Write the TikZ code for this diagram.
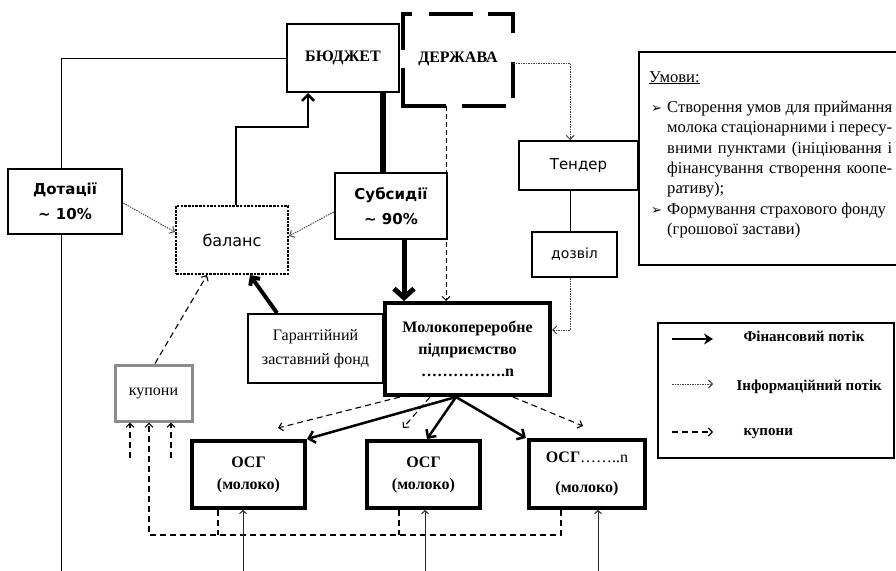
\documentclass[tikz,border=0pt]{standalone}
\usepackage{fontspec}
\setmainfont{Liberation Serif}
\newfontfamily\gothic{DejaVu Sans}
\newfontfamily\symf{DejaVu Sans}
\usetikzlibrary{arrows.meta,calc}
\newcommand\umbul{\makebox[16pt][l]{\symf\fontsize{13}{13}\selectfont ➢}}
\begin{document}
\begin{tikzpicture}[x=1pt,y=-1pt,
  box/.style={draw, rectangle, inner sep=0pt, line width=2pt, align=center},
  serif/.style={font=\fontsize{16}{22}\selectfont},
  serifb/.style={font=\bfseries\fontsize{16}{22}\selectfont},
  legtext/.style={anchor=west, font=\bfseries\fontsize{15}{20}\selectfont},
  sans/.style={font=\gothic\fontsize{15}{24}\selectfont},
  sansb/.style={font=\gothic\bfseries\fontsize{15}{25}\selectfont},
  utext/.style={anchor=base west, inner sep=0pt, font=\fontsize{16.6}{20}\selectfont},
  thinline/.style={line width=1pt},
  derzhline/.style={line width=4.5pt, line cap=butt, line join=miter},
  fin/.style={line width=2.5pt, -{Straight Barb[length=6pt,width=12pt]}},
  bigfin/.style={line width=5pt, -{Straight Barb[length=9pt,width=20pt]}},
  info/.style={line width=0.9pt, draw=black!75, dash pattern=on 1.5pt off 1pt, -{Straight Barb[length=4pt,width=8pt]}},
  kup/.style={line width=1.1pt, dash pattern=on 6pt off 4pt, -{Straight Barb[length=4pt,width=8pt]}},
  kupline/.style={line width=1.1pt, dash pattern=on 6pt off 4pt},
  uparrow/.style={line width=1pt, draw=black!85, -{Straight Barb[length=3pt,width=7pt]}}
]
\useasboundingbox (0,0) rectangle (896,570);
\coordinate (bottomedge) at (0,571);

% boxes
\node[box, serifb, minimum width=112pt, minimum height=68pt] (budget) at (343,58) {БЮДЖЕТ};
\node[rectangle, inner sep=0pt, minimum width=110pt, minimum height=92pt, serifb] (derzh) at (458,60) {\raisebox{5pt}{ДЕРЖАВА}};
\draw[derzhline] (403,50) -- (403,14) -- (412,14);
\draw[derzhline] (429,14) -- (473,14);
\draw[derzhline] (488,14) -- (513,14) -- (513,33);
\draw[derzhline] (513,62) -- (513,98);
\draw[derzhline] (506,106) -- (462,106);
\draw[derzhline] (446,106) -- (403,106) -- (403,68);
\node[box, line width=2.5pt, sansb, minimum width=114pt, minimum height=65pt] (dotacii) at (65,201.5) {Дотації\\\textasciitilde{} 10\%};
\node[box, sans, font=\gothic\fontsize{16}{20}\selectfont, line width=2.2pt, dash pattern=on 2.5pt off 1.2pt, minimum width=112pt, minimum height=68pt] (balans) at (232,240) {баланс};
\node[box, line width=2.5pt, sansb, minimum width=112pt, minimum height=66pt] (subsidii) at (391,206) {Субсидії\\\textasciitilde{} 90\%};
\node[box, sans, minimum width=119pt, minimum height=49pt] (tender) at (578.5,165.5) {Тендер};
\node[box, sans, font=\gothic\fontsize{14}{20}\selectfont, minimum width=85pt, minimum height=45pt] (dozvil) at (574.5,254.5) {дозвіл};
\node[box, minimum width=258pt, minimum height=213pt] (umovy) at (768,158.5) {};
\node[box, serif, font=\fontsize{16}{24}\selectfont, minimum width=135pt, minimum height=69pt] (garant) at (315.5,348.5) {Гарантійний\\заставний фонд};
\node[box, serifb, line width=4pt, minimum width=165pt, minimum height=92pt] (molok) at (467.5,349) {Молокопереробне\\підприємство\\…………….n};
\node[box, serif, draw=black!45, line width=3pt, minimum width=77pt, minimum height=56pt] (kuponu) at (153.5,393) {купони};
\node[box, serifb, line width=4pt, minimum width=113pt, minimum height=67pt] (osg1) at (248.5,474.5) {ОСГ\\(молоко)};
\node[box, serifb, line width=4pt, minimum width=113pt, minimum height=67pt] (osg2) at (423.5,474.5) {ОСГ\\(молоко)};
\node[box, serifb, font=\bfseries\fontsize{16}{30}\selectfont, line width=4pt, minimum width=116pt, minimum height=68pt] (osg3) at (587,474) {ОСГ\mdseries……..n\\\bfseries(молоко)};
\node[draw, rectangle, line width=1.5pt, minimum width=236pt, minimum height=135pt] (legend) at (776,390.5) {};

% Umovy text
\node[utext] (uh) at (649,82) {\underline{Умови:}};
\node[utext] (u1) at (651,112.5) {\umbul\makebox[225pt][s]{Створення умов для приймання}};
\node[utext] (u2) at (667,132.8) {\makebox[225pt][s]{молока стаціонарними і пересу-}};
\node[utext] (u3) at (667,153.1) {\makebox[225pt][s]{вними пунктами (ініціювання і}};
\node[utext] (u4) at (667,173.4) {\makebox[225pt][s]{фінансування створення коопе-}};
\node[utext] (u5) at (667,193.7) {ративу);};
\node[utext] (u6) at (651,214) {\umbul Формування страхового фонду};
\node[utext] (u7) at (667,234.3) {(грошової застави)};

% connectors
\draw[thinline] (budget.west) -| ($(dotacii.north)+(-3.5,0)$);
\path ($(dotacii.south)+(-3.5,0)$) coordinate (dbot);
\draw[thinline] (dbot) -- (dbot |- bottomedge);
\draw[fin] ($(balans.north)+(4,0)$) -- ++(0,-78) -| ($(budget.south)+(-35,0)$);
\draw[line width=6pt] ($(budget.south)+(40,0)$) -- ($(subsidii.north)+(-8,0)$);
\draw[bigfin] ($(subsidii.south)+(13,0)$) -- ($(molok.north)+(-63.5,0)$);
\draw[kup, line width=0.9pt, dash pattern=on 5pt off 3pt] ($(derzh.south)+(-12,0)$) -- ($(molok.north)+(-21.5,0)$);
\draw[info] ($(derzh.east)+(0,3)$) -| ($(tender.north)+(-8.5,0)$);
\draw[thinline] ($(tender.south)+(-8.5,0)$) -- ($(dozvil.north)+(-4.5,0)$);
\draw[info] ($(dozvil.south)+(-4.5,0)$) |- ($(molok.east)+(0,-19)$);
\draw[info] ($(dotacii.east)+(0,1.5)$) -- ($(balans.west)+(0,-8)$);
\draw[info] ($(subsidii.west)+(0,6)$) -- ($(balans.east)+(0,-4)$);
\draw[fin, line width=4pt] ($(garant.north)+(-38.5,0)$) -- ($(balans.south)+(18,0)$);
\draw[kup] ($(kuponu.north)+(1.5,0)$) -- ($(balans.south)+(-25,0)$);

% coupons
\coordinate (k1) at (130,458);
\coordinate (k3) at (171,458);
\coordinate (kcorner) at (149,535);
\draw[kup] (k1) -- (k1 |- kuponu.south);
\draw[kup] (k3) -- (k3 |- kuponu.south);
\draw[kup] ($(osg3.south)+(-26,0)$) |- (kcorner) -- (kcorner |- kuponu.south);
\path ($(osg1.south)+(-30.5,0)$) coordinate (d1);
\path ($(osg2.south)+(-24.5,0)$) coordinate (d2);
\draw[kupline] (d1) -- (d1 |- kcorner);
\draw[kupline] (d2) -- (d2 |- kcorner);

% milk supply
\path ($(osg1.south)+(-5.5,0)$) coordinate (s1);
\path ($(osg2.south)+(1.5,0)$) coordinate (s2);
\path ($(osg3.south)+(11,0)$) coordinate (s3);
\draw[uparrow] (s1 |- bottomedge) -- (s1);
\draw[uparrow] (s2 |- bottomedge) -- (s2);
\draw[uparrow] (s3 |- bottomedge) -- (s3);

% from processing plant
\coordinate (msrc) at ($(molok.south)+(-11.5,0)$);
\draw[fin] (msrc) -- (osg1.north east);
\draw[fin] (msrc) -- ($(osg2.north)+(3.5,0)$);
\draw[fin] (msrc) -- ($(osg3.north west)+(-1,0)$);
\draw[kup] ($(molok.south)+(-67.5,0)$) -- ($(osg1.north)+(29.5,-11)$);
\draw[kup] ($(molok.south)+(-37.5,0)$) -- ($(osg2.north)+(-20.5,-11)$);
\draw[kup] ($(molok.south)+(45.5,0)$) -- ($(osg3.north)+(-4,-12)$);

% legend
\coordinate (lf1) at (672,339); \coordinate (lf2) at (713,339);
\coordinate (li1) at (672,384); \coordinate (li2) at (713,384);
\coordinate (lk1) at (672,432); \coordinate (lk2) at (713,432);
\draw[line width=2.5pt, -{Stealth[length=9pt,width=11pt]}] (lf1) -- (lf2);
\draw[info] (li1) -- (li2);
\draw[kup] (lk1) -- (lk2);
\node[legtext] (lfin) at (740,336) {Фінансовий потік};
\node[legtext] (linf) at (733,387) {Інформаційний потік};
\node[legtext] (lkup) at (740,434) {купони};
\end{tikzpicture}
\end{document}
